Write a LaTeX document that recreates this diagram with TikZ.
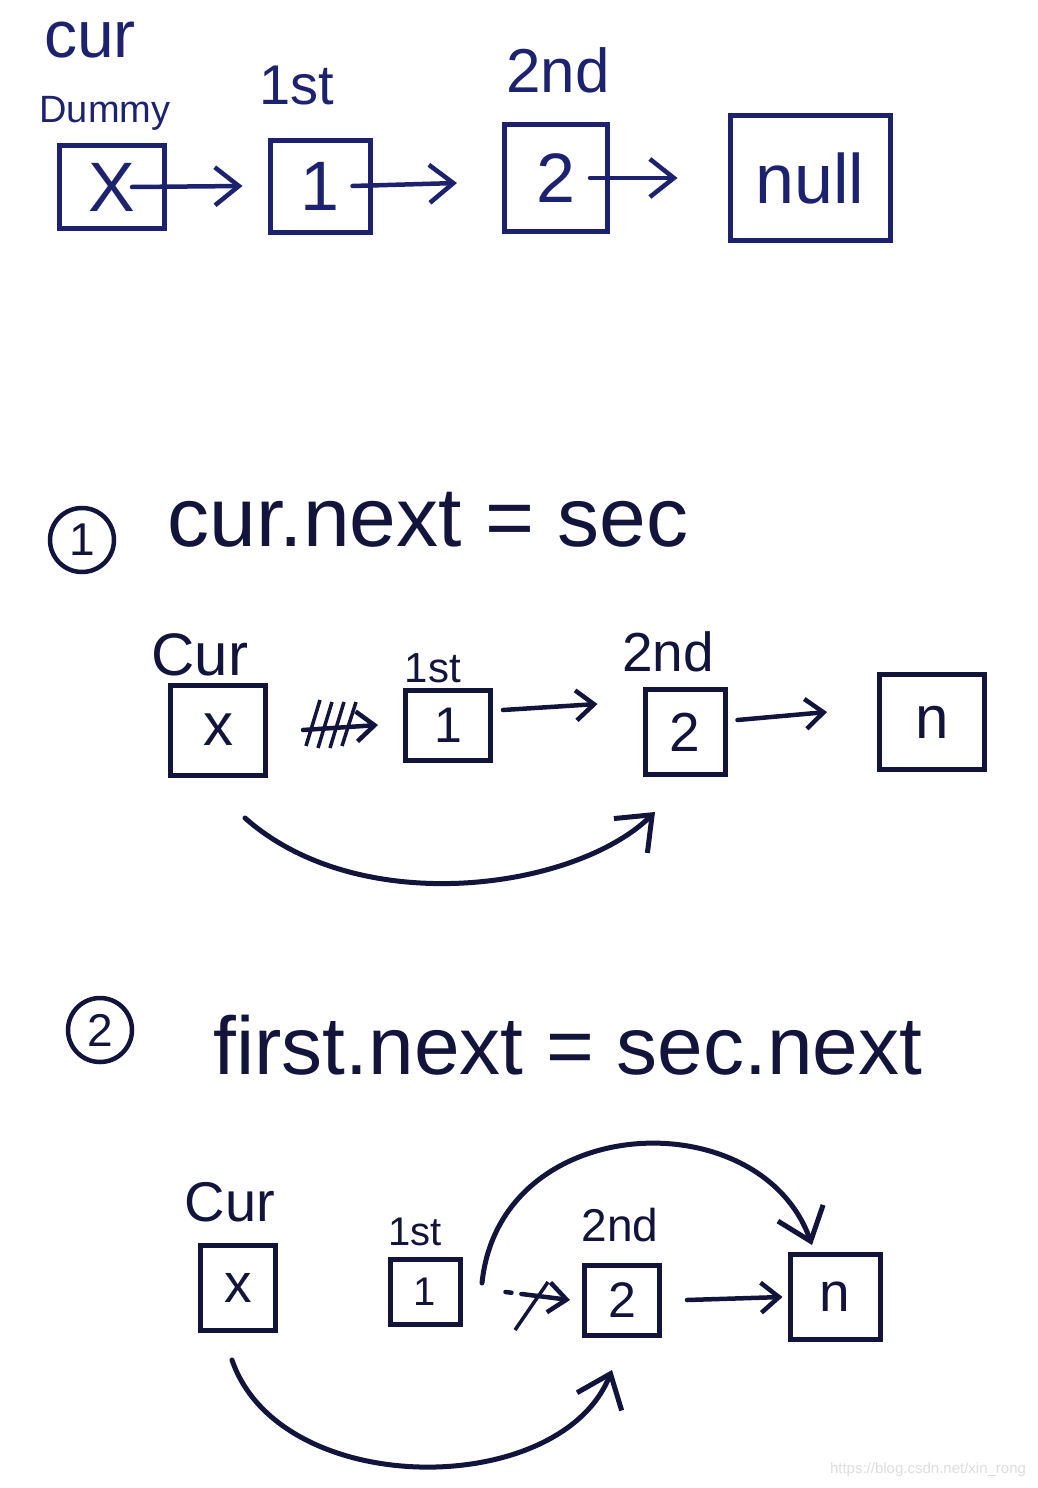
\documentclass[tikz,border=0pt]{standalone}
\usepackage{fontspec}
\setmainfont{Liberation Sans}
\usetikzlibrary{arrows.meta}
\definecolor{inkA}{RGB}{28,34,110}
\definecolor{inkB}{RGB}{18,20,60}
\definecolor{wm}{RGB}{222,222,222}
\tikzset{
  fs/.style={font=\fontsize{#1}{#1}\selectfont},
  box/.style={draw, line width=5pt, inner sep=0pt},
  lbl/.style={inner sep=0pt},
  arr/.style={line width=4.5pt, line cap=round, -{Straight Barb[length=24pt,width=38pt,line width=4.5pt]}},
  arrs/.style={line width=4.5pt, line cap=round, -{Straight Barb[length=18pt,width=30pt,line width=4.5pt]}},
  arrc/.style={line width=5pt, line cap=round, -{Straight Barb[length=30pt,width=48pt,line width=5pt]}},
  cnum/.style={circle, draw, line width=4.5pt, minimum size=64pt, inner sep=0pt, fs=46},
}
\begin{document}
\begin{tikzpicture}[x=1pt,y=-1pt]
\useasboundingbox (0,0) rectangle (1038,1488);
\fill[white] (0,0) rectangle (1038,1488);

% ---------- top row ----------
\begin{scope}[inkA, every node/.append style={text=inkA}]
\node[lbl, fs=66] (tcur) at (90,40) {cur};
\node[lbl, fs=38] (tdum) at (105,113) {Dummy};
\node[lbl, fs=56] (t1st) at (297,86) {1st};
\node[lbl, fs=62] (t2nd) at (558,70) {2nd};
\node[box, minimum width=105pt, minimum height=83pt, fs=70] (d) at (112,187) {X};
\node[box, minimum width=100pt, minimum height=92pt, fs=70] (a1) at (320,186) {1};
\node[box, minimum width=103pt, minimum height=107pt, fs=70] (a2) at (556,178) {2};
\node[box, minimum width=160pt, minimum height=125pt, fs=70] (an) at (810,178) {null};
\draw[arr] ([xshift=-35pt]d.east) -- ([xshift=-25pt]a1.west);
\draw[arr] ([xshift=-20pt]a1.east) -- ([xshift=-45pt,yshift=-5pt]a2.west);
\draw[arr] ([xshift=-20pt]a2.east) -- ([xshift=-50pt]an.west);
\end{scope}

% ---------- step 1 ----------
\begin{scope}[inkB, every node/.append style={text=inkB}]
\node[cnum] (c1) at (82,540) {1};
\node[lbl, fs=84] (h1) at (428,520) {cur.next = sec};
\node[lbl, fs=60] (s1cur) at (200,655) {Cur};
\node[lbl, fs=42] (s11st) at (433,668) {1st};
\node[lbl, fs=55] (s12nd) at (668,652) {2nd};
\node[box, minimum width=95pt, minimum height=90pt, fs=60] (bx1) at (218,730) {x};
\node[box, minimum width=85pt, minimum height=70pt, fs=50] (b11) at (448,725) {1};
\node[box, minimum width=80pt, minimum height=85pt, fs=55] (b12) at (685,732) {2};
\node[box, minimum width=105pt, minimum height=95pt, fs=60] (b1n) at (932,722) {n};
\draw[arrs] ([xshift=35pt]bx1.east) -- ([xshift=-25pt]b11.west);
\draw[line width=3.5pt] (306,746) -- (320,700) (318,748) -- (332,702) (330,748) -- (344,702) (342,746) -- (356,702);
\draw[arrs] ([xshift=10pt,yshift=15pt]b11.east) -- ([xshift=-45pt,yshift=28pt]b12.west);
\draw[arrs] ([xshift=10pt,yshift=12pt]b12.east) -- ([xshift=-50pt,yshift=10pt]b1n.west);
\coordinate (p1s) at (245,818);
\coordinate (p1e) at (655,812);
\draw[arrc] (p1s) .. controls (360,920) and (575,890) .. (p1e);
\end{scope}

% ---------- step 2 ----------
\begin{scope}[inkB, every node/.append style={text=inkB}]
\node[cnum] (c2) at (100,1030) {2};
\node[lbl, fs=82] (h2) at (568,1045) {first.next = sec.next};
\node[lbl, fs=56] (s2cur) at (230,1202) {Cur};
\node[lbl, fs=40] (s21st) at (415,1232) {1st};
\node[lbl, fs=46] (s22nd) at (620,1225) {2nd};
\node[box, minimum width=75pt, minimum height=85pt, fs=55] (bx2) at (238,1288) {x};
\node[box, minimum width=70pt, minimum height=65pt, fs=40] (b21) at (425,1292) {1};
\node[box, minimum width=75pt, minimum height=70pt, fs=50] (b22) at (622,1300) {2};
\node[box, minimum width=90pt, minimum height=85pt, fs=55] (b2n) at (835,1297) {n};
\draw[arrs, dash pattern=on 6pt off 10pt on 60pt] ([xshift=43pt]b21.east) -- ([xshift=-12pt]b22.west);
\draw[line width=3.5pt] (515,1330) -- (548,1282);
\draw[arrs] ([xshift=25pt]b22.east) -- ([xshift=-5pt]b2n.west);
\coordinate (p2s) at (482,1283);
\coordinate (p2e) at (812,1245);
\draw[arrc] (p2s) .. controls (500,1110) and (760,1100) .. (p2e);
\coordinate (p3s) at (232,1360);
\coordinate (p3e) at (612,1370);
\draw[arrc] (p3s) .. controls (280,1500) and (560,1500) .. (p3e);
\end{scope}

\node[lbl, text=wm, fs=15] (wmk) at (928,1470) {https://blog.csdn.net/xin\_rong};
\end{tikzpicture}
\end{document}
